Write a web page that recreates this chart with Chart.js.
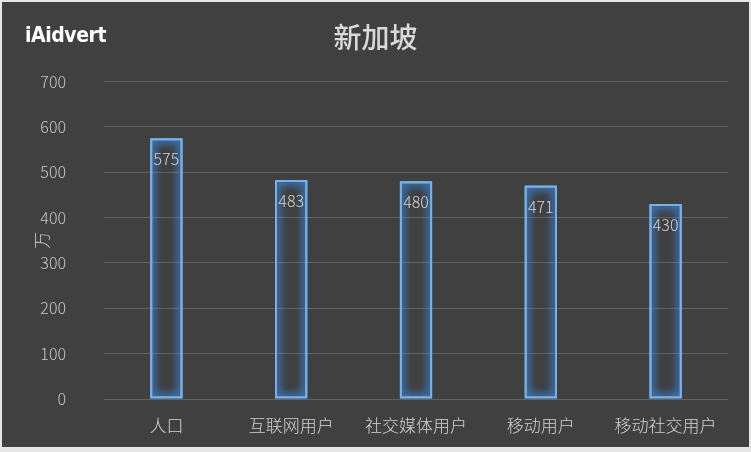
<!DOCTYPE html>
<html>
<head>
<meta charset="utf-8">
<script src="https://cdn.jsdelivr.net/npm/chart.js@4"></script>
<style>
  html, body { margin: 0; padding: 0; background: #e6e6e6; }
  #wrap { position: absolute; left: 2px; top: 2px; width: 747px; height: 445px; background: #404040; }
  #logo { position: absolute; left: 23px; top: 21px; color: #ffffff; font-family: "DejaVu Sans"; font-weight: bold; font-size: 21px; transform: scaleX(0.9); transform-origin: left center; letter-spacing: -0.5px; }
  canvas { position: absolute; left: 0; top: 0; }
</style>
</head>
<body>
<div id="wrap">
  <canvas id="c" width="747" height="445"></canvas>
  <div id="logo">iAidvert</div>
</div>
<script>
const categories = ["人口", "互联网用户", "社交媒体用户", "移动用户", "移动社交用户"];
const values = [575, 483, 480, 471, 430];
const yTicks = [0, 100, 200, 300, 400, 500, 600, 700];
const chartTitle = "新加坡";
const yTitle = "万";

const CJK = '"Noto Sans CJK SC", "Noto Sans", sans-serif';

const glow = {
  id: 'glow',
  beforeDatasetDraw(chart) {
    const ctx = chart.ctx;
    ctx.save();
    ctx.shadowColor = 'rgba(60,145,245,1)';
    ctx.shadowBlur = 10;
  },
  afterDatasetDraw(chart, args) {
    const ctx = chart.ctx;
    // extra passes to strengthen the glow
    args.meta.data.forEach(el => el.draw(ctx));
    args.meta.data.forEach(el => el.draw(ctx));
    ctx.restore();
  }
};

const valueLabels = {
  id: 'valueLabels',
  afterDatasetsDraw(chart) {
    const ctx = chart.ctx;
    const meta = chart.getDatasetMeta(0);
    ctx.save();
    ctx.fillStyle = '#d4d4d4';
    ctx.font = '300 16px ' + CJK;
    ctx.textAlign = 'center';
    ctx.textBaseline = 'middle';
    meta.data.forEach((bar, i) => {
      ctx.fillText(String(values[i]), bar.x, bar.y + 21);
    });
    ctx.restore();
  }
};

new Chart(document.getElementById('c'), {
  type: 'bar',
  data: {
    labels: categories,
    datasets: [{
      data: values,
      backgroundColor: 'rgba(64,64,64,0)',
      borderColor: '#78b0e4',
      borderWidth: 2,
      borderSkipped: false,
      barPercentage: 0.52,
      categoryPercentage: 0.5
    }]
  },
  options: {
    responsive: false,
    animation: false,
    devicePixelRatio: 1,
    layout: { padding: { left: 21, right: 21, top: 0, bottom: 0 } },
    plugins: {
      legend: { display: false },
      tooltip: { enabled: false },
      title: {
        display: true,
        text: chartTitle,
        color: '#dadada',
        font: { family: CJK, size: 28, weight: '500', lineHeight: 1.2 },
        padding: { top: 19, bottom: 27 }
      }
    },
    scales: {
      x: {
        grid: { display: false },
        border: { display: false },
        ticks: { color: '#d2d2d2', font: { family: CJK, size: 17, weight: '300' }, padding: 8, maxRotation: 0, autoSkip: false },
        afterFit(scale) { scale.height = 48; }
      },
      y: {
        min: 0, max: 700,
        afterBuildTicks(scale) { scale.ticks = yTicks.map(v => ({ value: v })); },
        grid: { color: '#626262', lineWidth: 1, drawTicks: false },
        border: { display: false },
        ticks: { color: '#c8c8c8', font: { family: CJK, size: 16, weight: '300' }, padding: 38 },
        title: { display: true, text: yTitle, color: '#c8c8c8', font: { family: CJK, size: 17, weight: '300' }, padding: { top: 8, bottom: 0 } },
        afterFit(scale) { scale.width = 81; }
      }
    }
  },
  plugins: [glow, valueLabels]
});
</script>
</body>
</html>
